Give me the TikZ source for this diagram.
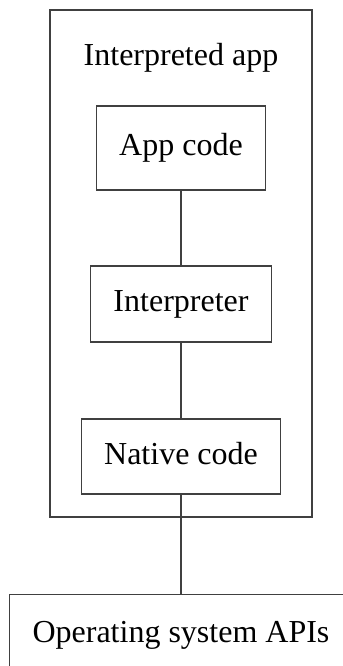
\documentclass[tikz,border=0pt]{standalone}
\usepackage{fontspec}
\setmainfont{Liberation Serif}
\usetikzlibrary{positioning}
\colorlet{box edge}{black!75}
\tikzset{
  box/.style={draw=box edge, line width=0.6pt, rectangle, inner xsep=11.5pt, inner ysep=0pt,
    text height=11pt, text depth=3.5pt, minimum height=38pt, font=\fontsize{16}{19}\selectfont},
  frame/.style={draw=box edge, line width=0.6pt, rectangle, inner sep=0pt},
  title/.style={anchor=base, font=\fontsize{16}{19}\selectfont},
  link/.style={draw=box edge, line width=0.6pt}
}
\begin{document}
\begin{tikzpicture}[x=0.5pt, y=-0.5pt]
    \useasboundingbox (0,0) rectangle (343,666);
    % outer frame of the app
    \node[frame, minimum width=131pt, minimum height=253.5pt] (app) at (181,263.5) {};
    \node[title] (apptitle) at (181,65) {Interpreted app};
    \node[box, minimum height=42pt] (appcode) at (181,148) {App code};
    \node[box] (interp) at (181,304) {Interpreter};
    \node[box, minimum height=37.5pt] (native) at (181,456.5) {Native code};
    \node[box, anchor=north, minimum width=170pt, minimum height=40pt] (os) at (181,594) {Operating system APIs};
    \draw[link] (appcode) -- (interp);
    \draw[link] (interp) -- (native);
    \draw[link] (native) -- (os);
\end{tikzpicture}
\end{document}
